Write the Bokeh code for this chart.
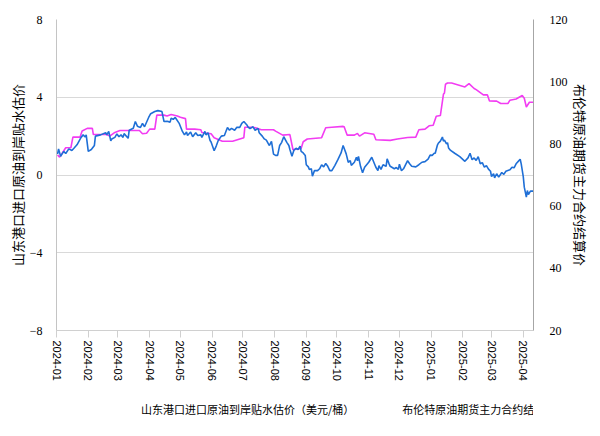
import pandas as pd
from bokeh.plotting import figure
from bokeh.layouts import column
from bokeh.models import (Range1d, LinearAxis, FixedTicker,
                          DatetimeTickFormatter, Legend, LegendItem, ColumnDataSource)
from bokeh.embed import file_html
from bokeh.resources import INLINE

# ---------------- data ----------------
sd_dates = ["2024-01-02","2024-01-04","2024-01-10","2024-01-15","2024-01-17","2024-01-24","2024-01-26","2024-01-31",
            "2024-02-05","2024-02-06","2024-02-19","2024-02-22","2024-02-27","2024-03-03","2024-03-22","2024-03-25",
            "2024-03-29","2024-04-01","2024-04-06","2024-04-08","2024-04-15","2024-04-18","2024-04-22","2024-04-28",
            "2024-05-01","2024-05-06","2024-05-07","2024-05-15","2024-05-21","2024-05-22","2024-05-31","2024-06-03",
            "2024-06-11","2024-06-21","2024-07-02","2024-07-03","2024-07-11","2024-07-15","2024-07-19","2024-07-31",
            "2024-08-02","2024-08-09","2024-08-16","2024-08-19","2024-08-27","2024-08-29","2024-09-02","2024-09-16",
            "2024-09-20","2024-09-26","2024-10-07","2024-10-08","2024-10-11","2024-10-18","2024-10-21","2024-10-23",
            "2024-10-28","2024-11-06","2024-11-08","2024-11-22","2024-11-29","2024-12-09","2024-12-17","2024-12-20",
            "2024-12-26","2024-12-30","2025-01-03","2025-01-06","2025-01-10","2025-01-13","2025-01-14","2025-01-15",
            "2025-01-17","2025-01-21","2025-02-03","2025-02-07","2025-02-12","2025-02-14","2025-02-21","2025-02-25",
            "2025-02-27","2025-03-06","2025-03-10","2025-03-17","2025-03-19","2025-03-25","2025-03-31","2025-04-02",
            "2025-04-04","2025-04-07","2025-04-11"]
sd_premium = [1.03,0.92,1.40,1.40,1.95,1.95,2.26,2.40,2.40,2.08,2.08,2.00,2.19,2.29,2.29,2.12,2.15,2.36,2.36,3.08,
              3.08,3.04,3.11,3.04,2.97,2.90,2.36,2.36,2.33,2.19,2.12,1.92,1.74,1.74,1.92,2.46,2.46,2.40,2.33,2.33,
              2.26,2.05,2.08,1.30,1.37,1.71,1.85,1.92,2.43,2.46,2.50,2.48,2.05,2.05,2.14,2.00,2.17,2.10,1.81,1.78,
              1.85,1.93,1.95,2.33,2.36,2.53,2.56,3.02,3.06,4.15,4.22,4.67,4.73,4.73,4.53,4.70,4.45,4.39,4.12,4.12,
              3.81,3.80,3.68,3.68,3.85,3.91,4.09,3.95,3.50,3.74,3.74]

brent_dates = ["2024-01-02","2024-01-03","2024-01-05","2024-01-08","2024-01-10","2024-01-13","2024-01-16","2024-01-18",
               "2024-01-21","2024-01-25","2024-01-27","2024-01-29","2024-01-30","2024-02-01","2024-02-04","2024-02-07",
               "2024-02-08","2024-02-13","2024-02-18","2024-02-19","2024-02-21","2024-02-23","2024-02-24","2024-02-27",
               "2024-02-29","2024-03-02","2024-03-04","2024-03-06","2024-03-07","2024-03-11","2024-03-12","2024-03-16",
               "2024-03-18","2024-03-20","2024-03-23","2024-03-25","2024-03-27","2024-03-31","2024-04-02","2024-04-06",
               "2024-04-09","2024-04-13","2024-04-15","2024-04-18","2024-04-21","2024-04-22","2024-04-24","2024-04-26",
               "2024-04-30","2024-05-03","2024-05-05","2024-05-07","2024-05-08","2024-05-11","2024-05-13","2024-05-16",
               "2024-05-18","2024-05-21","2024-05-22","2024-05-25","2024-05-26","2024-05-28","2024-05-30","2024-05-31",
               "2024-06-03","2024-06-05","2024-06-07","2024-06-10","2024-06-13","2024-06-16","2024-06-18","2024-06-20",
               "2024-06-23","2024-06-25","2024-06-28","2024-06-30","2024-07-02","2024-07-05","2024-07-06","2024-07-08",
               "2024-07-11","2024-07-13","2024-07-16","2024-07-17","2024-07-20","2024-07-22","2024-07-24","2024-07-26",
               "2024-07-27","2024-07-29","2024-07-31","2024-08-02","2024-08-04","2024-08-06","2024-08-08","2024-08-10",
               "2024-08-13","2024-08-15","2024-08-16","2024-08-18","2024-08-20","2024-08-22","2024-08-24","2024-08-26",
               "2024-08-27","2024-08-29","2024-08-31","2024-09-01","2024-09-03","2024-09-04","2024-09-06","2024-09-07",
               "2024-09-09","2024-09-12","2024-09-14","2024-09-16","2024-09-18","2024-09-20","2024-09-22","2024-09-24",
               "2024-09-26","2024-09-29","2024-10-02","2024-10-05","2024-10-07","2024-10-08","2024-10-10","2024-10-12",
               "2024-10-14","2024-10-15","2024-10-18","2024-10-20","2024-10-21","2024-10-22","2024-10-24","2024-10-26",
               "2024-10-28","2024-11-01","2024-11-04","2024-11-06","2024-11-08","2024-11-10","2024-11-11","2024-11-13",
               "2024-11-15","2024-11-18","2024-11-19","2024-11-21","2024-11-22","2024-11-26","2024-11-28","2024-11-30",
               "2024-12-01","2024-12-03","2024-12-05","2024-12-09","2024-12-11","2024-12-13","2024-12-17","2024-12-20",
               "2024-12-23","2024-12-26","2024-12-29","2024-12-31","2025-01-02","2025-01-04","2025-01-05","2025-01-07",
               "2025-01-08","2025-01-10","2025-01-12","2025-01-13","2025-01-14","2025-01-16","2025-01-17","2025-01-18",
               "2025-01-20","2025-01-24","2025-01-29","2025-02-03","2025-02-06","2025-02-08","2025-02-10","2025-02-12",
               "2025-02-14","2025-02-16","2025-02-18","2025-02-20","2025-02-22","2025-02-24","2025-02-26","2025-02-28",
               "2025-03-01","2025-03-03","2025-03-04","2025-03-06","2025-03-08","2025-03-11","2025-03-13","2025-03-15",
               "2025-03-19","2025-03-21","2025-03-23","2025-03-25","2025-03-28","2025-03-29","2025-03-30","2025-04-01",
               "2025-04-02","2025-04-04","2025-04-05","2025-04-06","2025-04-08","2025-04-11"]
brent_price = [76.7,78.4,76.0,77.6,76.9,78.4,77.9,78.6,79.7,82.1,82.9,82.2,82.9,77.6,78.2,79.5,
               82.5,82.9,83.6,82.9,84.0,81.0,81.6,82.1,83.2,82.3,82.9,82.1,83.3,81.8,84.4,85.0,
               87.2,85.7,85.3,86.6,85.5,88.5,89.7,90.4,90.7,90.4,87.2,87.3,87.0,88.3,87.9,88.5,
               86.5,84.0,82.9,83.8,82.7,83.8,82.3,83.6,82.7,82.9,82.1,84.0,82.9,83.6,81.1,80.6,
               77.8,79.3,81.1,82.5,82.7,85.3,84.4,85.0,84.4,85.3,85.3,86.6,87.2,86.1,85.5,84.9,
               85.5,84.4,85.0,83.6,82.5,81.6,81.2,80.0,79.5,80.8,76.7,76.3,76.3,79.5,80.5,82.3,
               80.5,79.5,78.2,76.0,78.0,78.6,78.2,79.3,77.6,77.1,76.3,73.3,72.6,71.8,72.0,69.6,
               71.4,71.4,72.0,73.3,72.6,73.7,72.8,71.4,71.4,73.1,75.0,77.1,79.5,78.6,76.8,74.1,
               74.6,73.1,74.1,75.7,74.6,76.0,72.8,70.7,72.5,74.1,75.7,74.1,72.5,71.4,73.0,71.8,
               73.3,72.8,75.2,73.5,72.8,72.0,72.4,71.8,73.5,71.4,72.0,74.6,73.6,72.8,72.6,73.3,
               74.1,74.3,75.1,76.4,76.3,77.0,77.0,79.5,80.2,80.9,82.2,80.9,81.2,80.0,80.4,78.7,
               77.9,77.0,75.9,74.4,75.5,77.0,74.9,75.5,74.7,75.9,73.6,74.0,72.5,73.0,71.9,71.2,
               69.5,70.4,69.1,70.4,69.3,70.8,70.2,71.2,71.7,72.5,72.3,73.6,74.7,75.1,73.6,69.5,
               66.1,62.9,65.0,63.7,64.8,64.8]

left_ticks = [-8, -4, 0, 4, 8]
right_ticks = [20, 40, 60, 80, 100, 120]
month_ticks = pd.date_range("2024-01-01", "2025-04-01", freq="MS")
x_start, x_end = "2024-01-01", "2025-04-11"
label_sd = "山东港口进口原油到岸贴水估价（美元/桶）"
label_brent = "布伦特原油期货主力合约结算价（美元/桶）"
title_left = "山东港口进口原油到岸贴水估价"
title_right = "布伦特原油期货主力合约结算价"

PINK = "#f23cf2"
BLUE = "#1f6fd6"
CJK = "Noto Sans CJK SC"

src_sd = ColumnDataSource(dict(x=pd.to_datetime(sd_dates), y=sd_premium))
src_br = ColumnDataSource(dict(x=pd.to_datetime(brent_dates), y=brent_price))

x0 = pd.Timestamp(x_start) - pd.Timedelta(minutes=30)
x1 = pd.Timestamp(x_end)

# ---------------- main chart ----------------
p = figure(width=592, height=400, x_axis_type="datetime",
           output_backend="svg", toolbar_location=None,
           x_range=Range1d(x0, x1),
           y_range=Range1d(left_ticks[0], left_ticks[-1]),
           min_border_left=56, min_border_right=54, min_border_top=19, min_border_bottom=70)
p.outline_line_color = None
p.extra_y_ranges = {"brent": Range1d(right_ticks[0], right_ticks[-1])}

# left axis
ya = p.yaxis[0]
ya.ticker = FixedTicker(ticks=left_ticks)
ya.major_label_overrides = {-8: "\u22128", -4: "\u22124"}
ya.axis_label = title_left
ya.axis_label_text_font = CJK
ya.axis_label_text_font_size = "13px"
ya.axis_label_text_font_style = "normal"
ya.axis_label_text_color = "#000000"
ya.axis_label_standoff = 0
ya.major_label_text_font = "Liberation Serif"
ya.major_label_text_font_size = "12px"
ya.major_label_text_color = "#000000"
ya.major_label_standoff = 8
ya.major_tick_line_color = None
ya.minor_tick_line_color = None
ya.axis_line_color = "#c4c4c4"

# right axis
ra = LinearAxis(y_range_name="brent", ticker=FixedTicker(ticks=right_ticks))
ra.axis_label = title_right
ra.axis_label_text_font = CJK
ra.axis_label_text_font_size = "13px"
ra.axis_label_text_font_style = "normal"
ra.axis_label_text_color = "#000000"
ra.axis_label_standoff = 0
ra.major_label_text_font = "Liberation Serif"
ra.major_label_text_font_size = "12px"
ra.major_label_text_color = "#000000"
ra.major_label_standoff = 10
ra.major_tick_line_color = None
ra.minor_tick_line_color = None
ra.axis_line_color = "#a6a6a6"
p.add_layout(ra, "right")

# x axis
xa = p.xaxis[0]
xa.ticker = FixedTicker(ticks=[t.value // 10**6 for t in month_ticks])
xa.formatter = DatetimeTickFormatter(months="%Y-%m", days="%Y-%m", years="%Y-%m",
                                     hours="%Y-%m", minutes="%Y-%m")
xa.major_label_orientation = "vertical"
xa.major_label_text_font = "Liberation Sans"
xa.major_label_text_font_size = "11px"
xa.major_label_text_color = "#000000"
xa.major_label_standoff = 3
xa.major_tick_out = 7
xa.major_tick_in = 0
xa.minor_tick_line_color = None
xa.major_tick_line_color = "#d0d0d0"
xa.axis_line_color = "#d0d0d0"

p.xgrid.grid_line_color = None
p.ygrid.grid_line_color = "#d9d9d9"
p.ygrid.grid_line_width = 1

p.line("x", "y", source=src_sd, line_color=PINK, line_width=1.6)
p.line("x", "y", source=src_br, line_color=BLUE, line_width=1.6, y_range_name="brent")

# ---------------- legend strip below the chart ----------------
pl = figure(width=592, height=30, output_backend="svg", toolbar_location=None,
            x_range=Range1d(0, 1), y_range=Range1d(0, 1),
            x_axis_location=None, y_axis_location=None, min_border=0)
pl.outline_line_color = None
pl.grid.visible = False
k1 = pl.line(x=[], y=[], line_color=PINK, line_width=1.6)
k2 = pl.line(x=[], y=[], line_color=BLUE, line_width=1.6)
legend = Legend(items=[LegendItem(label=label_sd, renderers=[k1]),
                       LegendItem(label=label_brent, renderers=[k2])],
                orientation="horizontal", location=(53, 12),
                border_line_color=None, background_fill_alpha=0,
                label_text_font=CJK, label_text_font_size="11px", label_text_color="#000000",
                glyph_width=27, glyph_height=18, label_standoff=5, spacing=16,
                padding=0, margin=0)
pl.add_layout(legend, "center")

layout = column(p, pl, spacing=0)
open("out.html", "w").write(file_html(layout, INLINE))
